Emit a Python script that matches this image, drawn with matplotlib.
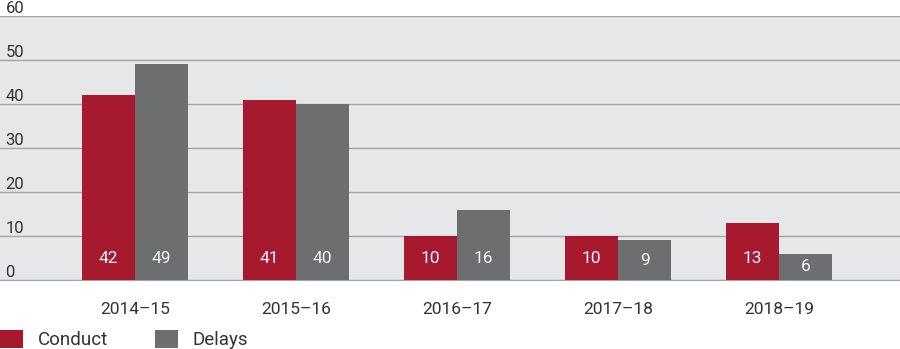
import numpy as np
import matplotlib.pyplot as plt
from matplotlib.transforms import offset_copy

years = ['2014–15', '2015–16', '2016–17', '2017–18', '2018–19']
conduct = [42, 41, 10, 10, 13]
delays = [49, 40, 16, 9, 6]
yticks = [0, 10, 20, 30, 40, 50, 60]

red = '#a6192e'
grey = '#6d6e70'
txt = '#333333'
font = 'Roboto'

fig = plt.figure(figsize=(9, 3.49), dpi=100)
ax = fig.add_axes([0, 69 / 349, 1, 264 / 349])
ax.set_facecolor('#e6e7e9')

x = np.arange(len(years))
w = 0.331
b1 = ax.bar(x - w / 2, conduct, w, color=red, label='Conduct', zorder=3)
b2 = ax.bar(x + w / 2, delays, w, color=grey, label='Delays', zorder=3)

for bars, vals in ((b1, conduct), (b2, delays)):
    for r, v in zip(bars, vals):
        ax.text(r.get_x() + r.get_width() / 2, min(4.8, v / 2), str(v),
                ha='center', va='center', color='#f4f4f4', fontsize=12.5,
                family=font, zorder=4)

ax.set_xlim(-0.838, 4.752)
ax.set_ylim(0, 60)
ax.set_yticks(yticks)
ax.yaxis.grid(True, color='#a3a4a6', linewidth=1, zorder=1)
ax.tick_params(left=False, labelleft=False, bottom=False)
ax.set_xticks(x)
ax.set_xticklabels(years, fontsize=12.5, color=txt, family=font)
ax.tick_params(axis='x', pad=12)
for s in ('top', 'right', 'left'):
    ax.spines[s].set_visible(False)
ax.spines['bottom'].set_color('#a3a4a6')

tr = offset_copy(ax.get_yaxis_transform(), fig=fig, x=0, y=3, units='dots')
for t in yticks:
    ax.text(0.006, t, str(t), transform=tr,
            ha='left', va='baseline', fontsize=12, color=txt, family=font,
            clip_on=False)

leg = fig.legend(handles=[b1, b2], loc='lower left', bbox_to_anchor=(0, 0.0),
                 ncol=2, frameon=False, handlelength=1.25, handleheight=1.1,
                 handletextpad=0.75, columnspacing=2.5, borderaxespad=0,
                 borderpad=0,
                 prop={'family': font, 'size': 13.5})
for t in leg.get_texts():
    t.set_color(txt)

fig.savefig('out.png', dpi=100)
